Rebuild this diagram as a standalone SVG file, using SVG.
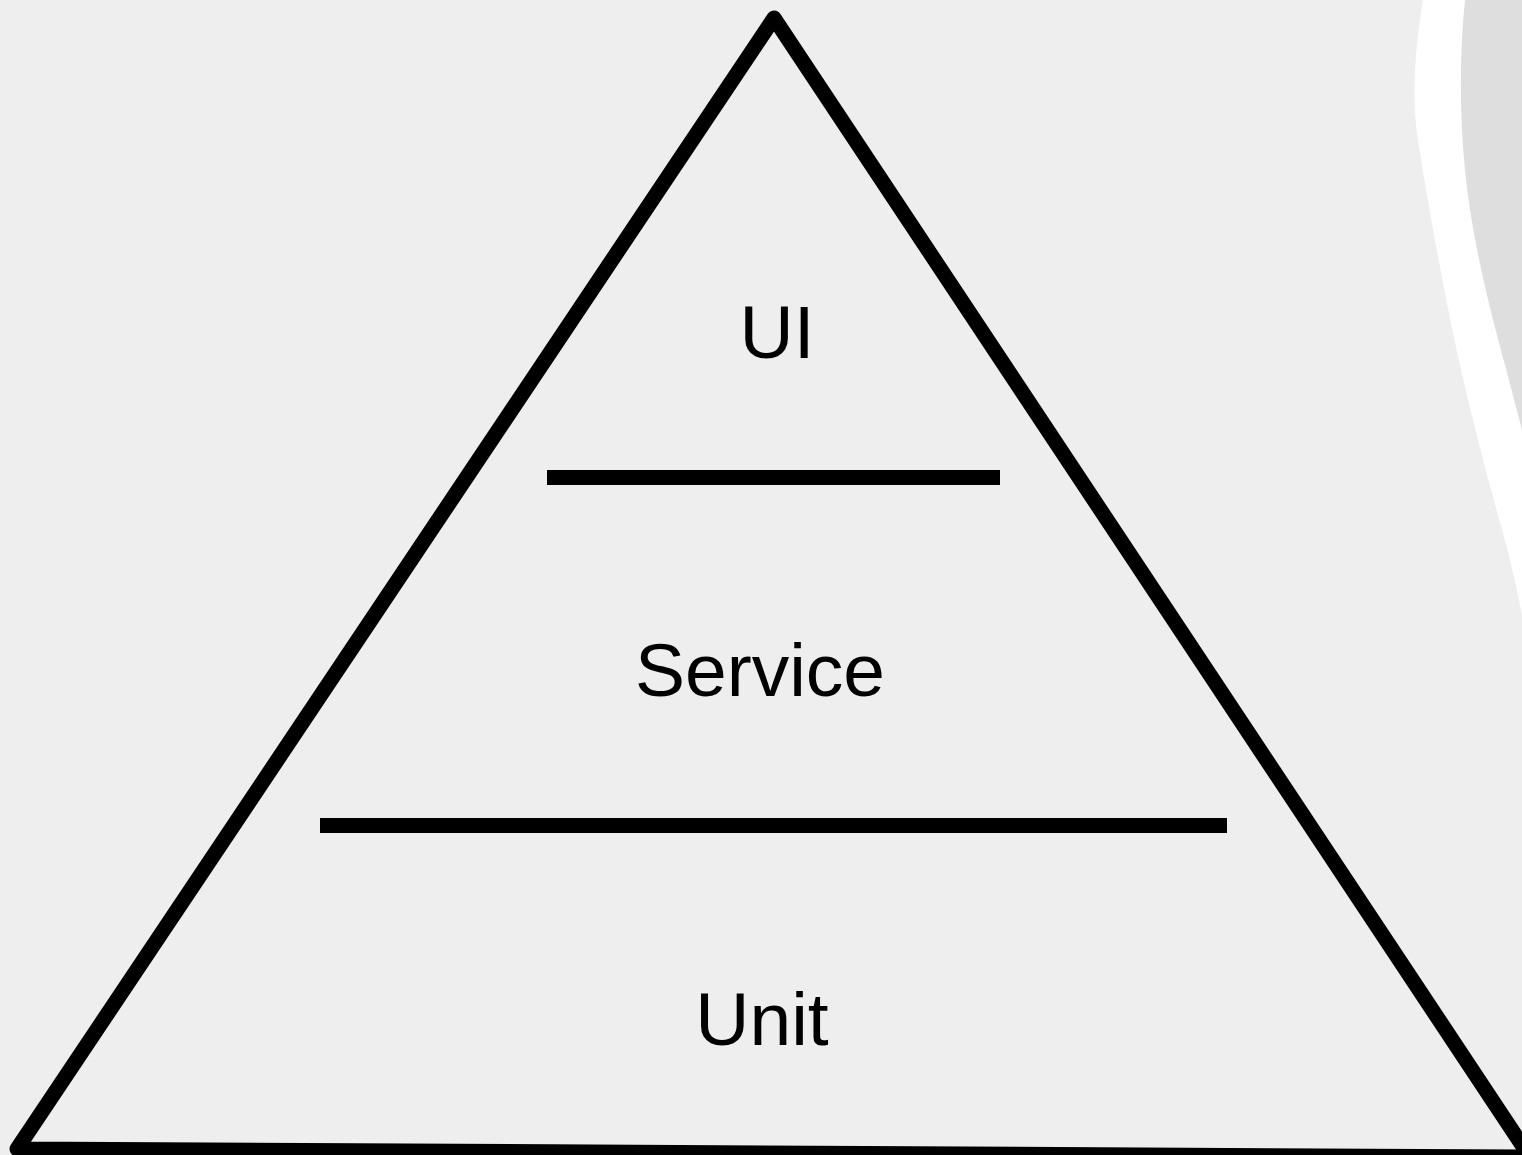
<svg xmlns="http://www.w3.org/2000/svg" width="1522" height="1155" viewBox="0 0 1522 1155">
  <style>
    .lbl { font-family: "Liberation Sans", Arial, sans-serif; font-size: 75px; fill: #000; text-anchor: middle; }
    .edge { fill: none; stroke: #000; stroke-width: 15; stroke-linejoin: round; }
    .bar { fill: #000; }
  </style>
  <rect id="background" x="0" y="0" width="1522" height="1155" fill="#eeeeee"/>
  <g id="swoosh">
    <path d="M1423,0 C1417,35 1411,90 1417,133 C1423,176 1440,270 1453,333 C1466,396 1488,480 1503,533 C1512,565 1518,595 1522,615 L1522,0 Z" fill="#ffffff"/>
    <path d="M1465,0 C1460,50 1459,110 1465,170 C1472,240 1490,310 1505,365 L1522,430 L1522,0 Z" fill="#dedede"/>
  </g>
  <g id="pyramid">
    <path class="edge" d="M774,18 L1530,1157 L17,1149 Z"/>
  </g>
  <g id="dividers">
    <rect id="divider-top" class="bar" x="547" y="470" width="453" height="15"/>
    <rect id="divider-bottom" class="bar" x="320" y="818" width="907" height="15"/>
  </g>
  <g id="layer-ui">
    <text class="lbl" x="777" y="358">UI</text>
  </g>
  <g id="layer-service">
    <text class="lbl" x="760" y="696">Service</text>
  </g>
  <g id="layer-unit">
    <text class="lbl" x="762" y="1045">Unit</text>
  </g>
</svg>
